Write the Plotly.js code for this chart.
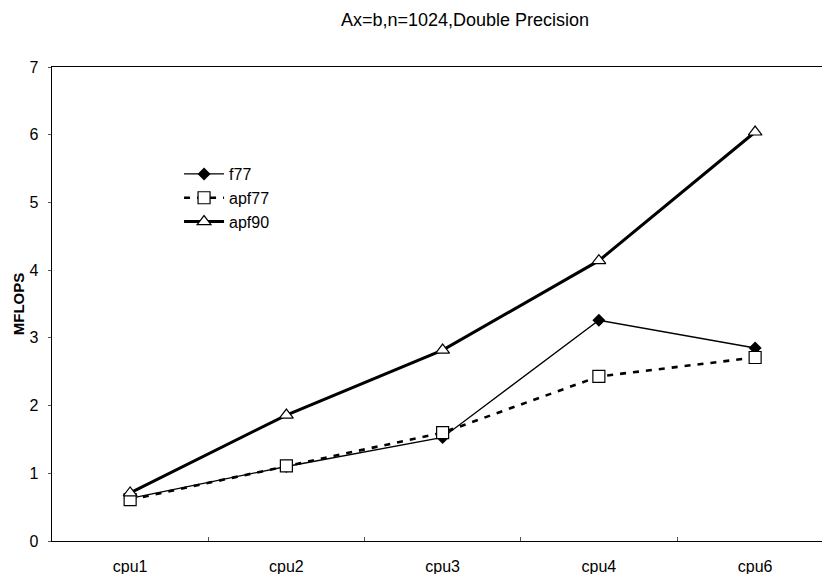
<!DOCTYPE html>
<html>
<head>
<meta charset="utf-8">
<script src="https://cdn.plot.ly/plotly-3.0.1.min.js"></script>
<style>html,body{margin:0;padding:0;background:#fff;}#chart{width:822px;height:574px;}</style>
</head>
<body>
<div id="chart"></div>
<script>
var categories = ["cpu1", "cpu2", "cpu3", "cpu4", "cpu6"];
var f77 = [0.63, 1.10, 1.53, 3.26, 2.85];
var apf77 = [0.61, 1.11, 1.60, 2.43, 2.71];
var apf90 = [0.71, 1.86, 2.82, 4.14, 6.04];
var yTicks = [0, 1, 2, 3, 4, 5, 6, 7];

var fnt = "Liberation Sans, Arial, sans-serif";

var traces = [
  {x: categories, y: f77, name: "f77", type: "scatter", mode: "lines+markers",
   line: {color: "#000", width: 1.3},
   marker: {symbol: "diamond", size: 10, color: "#000"}},
  {x: categories, y: apf77, name: "apf77", type: "scatter", mode: "lines+markers",
   line: {color: "#000", width: 2.6, dash: "6px,7px"},
   marker: {symbol: "square", size: 12, color: "#fff", line: {color: "#000", width: 1.2}}},
  {x: categories, y: apf90, name: "apf90", type: "scatter", mode: "lines+markers",
   line: {color: "#000", width: 3},
   marker: {symbol: "triangle-up", size: 12, color: "#fff", line: {color: "#000", width: 1.2}}}
];

var layout = {
  width: 822, height: 574,
  margin: {l: 52, r: 0, t: 67, b: 33},
  paper_bgcolor: "#fff", plot_bgcolor: "#fff",
  font: {family: fnt, size: 16, color: "#000"},
  title: {text: "Ax=b,n=1024,Double Precision", font: {family: fnt, size: 18, color: "#000"},
          x: 465/822, xanchor: "center", xref: "container", y: 1 - 20/574, yanchor: "middle", yref: "container"},
  showlegend: true,
  legend: {x: 0.165, y: 0.81, xanchor: "left", yanchor: "top", bgcolor: "rgba(255,255,255,0)",
           bordercolor: "#ccc", borderwidth: 0, font: {family: fnt, size: 16, color: "#000"},
           tracegroupgap: 0, itemwidth: 40},
  xaxis: {type: "category", range: [-0.5, 4.428], showgrid: false, zeroline: false,
          showline: true, linecolor: "#000", linewidth: 1.3, mirror: true,
          ticks: "inside", tickson: "boundaries", ticklen: 4, tickcolor: "#555",
          ticklabelstandoff: 10, tickfont: {family: fnt, size: 16, color: "#000"}},
  yaxis: {range: [0, 7], tickvals: yTicks, showgrid: false, zeroline: false,
          showline: true, linecolor: "#000", linewidth: 1.3,
          ticks: "outside", ticklen: 3, tickcolor: "#555", ticklabelstandoff: 6,
          tickfont: {family: fnt, size: 16, color: "#000"},
          title: {text: "<b>MFLOPS</b>", font: {family: "Liberation Sans Narrow, Arial Narrow, sans-serif", size: 15, color: "#000"}, standoff: 1}}
};

Plotly.newPlot("chart", traces, layout, {displayModeBar: false, staticPlot: true});
</script>
</body>
</html>
